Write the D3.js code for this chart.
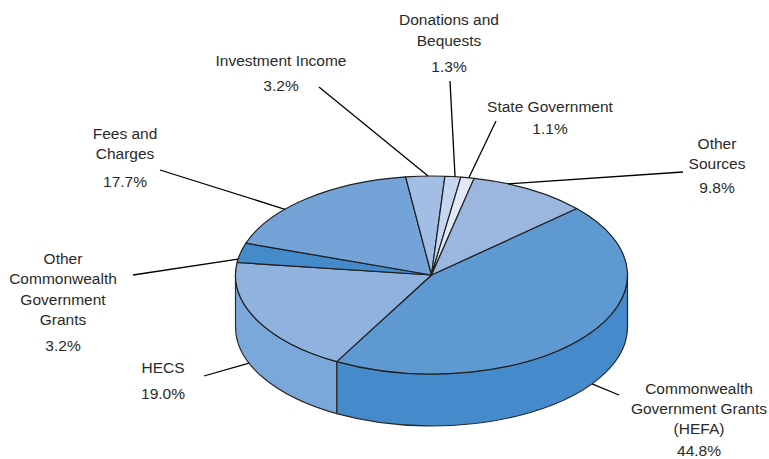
<!DOCTYPE html>
<html>
<head>
<meta charset="utf-8">
<script src="https://cdn.jsdelivr.net/npm/d3@7"></script>
<style>
  html, body { margin: 0; background: #fff; }
  svg { display: block; }
  text { font-family: "Liberation Sans", Arial, sans-serif; font-size: 15.5px; fill: #2a2a2a; }
</style>
</head>
<body>
<svg id="chart" width="769" height="459"></svg>
<script>
// data, clockwise from the right hand edge of the big slice
const categories = ["Commonwealth Government Grants (HEFA)", "HECS", "Other Commonwealth Government Grants",
                    "Fees and Charges", "Investment Income", "Donations and Bequests", "State Government", "Other Sources"]
const values = [44.8, 19.0, 3.2, 17.7, 3.2, 1.3, 1.1, 9.8]
const labelLines = [
  ["Commonwealth", "Government Grants", "(HEFA)"],
  ["HECS"],
  ["Other", "Commonwealth", "Government", "Grants"],
  ["Fees and", "Charges"],
  ["Investment Income"],
  ["Donations and", "Bequests"],
  ["State Government"],
  ["Other", "Sources"]
]

// styling
const topColors = ["#5f99d1", "#8fb2de", "#458bcb", "#74a4d7", "#a2bee5", "#c6d6f0", "#e1e8f6", "#9bb7e0"]
const wallColors = ["#458bcb", "#7ba8db", "#458bcb", "#74a4d7", "#a2bee5", "#c6d6f0", "#e1e8f6", "#9bb7e0"]

// label placement: x, first baseline, line gap, baseline of the percent
const labelPos = [
  [699, 394, 20, 456],
  [163, 373, 20, 399],
  [63, 264, 20.3, 351],
  [125, 139, 20, 187],
  [281, 66, 20, 91],
  [449, 25, 21, 72],
  [550, 112, 20, 134],
  [717, 149, 20, 193]
]
// leader lines: angle on the rim (deg), on the bottom edge or not, outer end
const leaders = [
  [125, true, 619, 395],
  [248.6, true, 204, 376],
  [279.2, false, 133, 275],
  [311.6, false, 160, 170],
  [359, false, 319, 87],
  [6.9, false, 450, 81],
  [11, false, 496, 121],
  [23, false, 683, 172]
]

const cx = 431.5, cy = 275, rx = 196, ry = 99, depth = 52
const startDeg = 47.8
const rad = d => d * Math.PI / 180

const svg = d3.select("#chart")

const pie = d3.pie()
              .sort(null)
              .startAngle(rad(startDeg))
              .endAngle(rad(startDeg) + 2 * Math.PI)
const slices = pie(values)

const arc = d3.arc()
              .innerRadius(0)
              .outerRadius(rx)

const px = a => cx + rx * Math.sin(a)
const py = a => cy - ry * Math.cos(a)

// wall of the disc, only the part facing us (90 to 270 degrees)
function wallPath(a0, a1)
{
  return "M" + px(a0) + "," + py(a0)
       + "A" + rx + "," + ry + " 0 0 1 " + px(a1) + "," + py(a1)
       + "L" + px(a1) + "," + (py(a1) + depth)
       + "A" + rx + "," + ry + " 0 0 0 " + px(a0) + "," + (py(a0) + depth)
       + "Z"
}

const walls = slices.map((d, i) => ({ i: i, a0: Math.max(d.startAngle, Math.PI / 2), a1: Math.min(d.endAngle, 3 * Math.PI / 2) }))
                    .filter(d => d.a1 > d.a0)

svg.selectAll(".wall")
   .data(walls)
   .enter().append("path")
   .attr("class", "wall")
   .attr("d", d => wallPath(d.a0, d.a1))
   .attr("fill", d => wallColors[d.i])
   .attr("stroke", "#2a2a2a")
   .attr("stroke-width", 1.2)
   .attr("stroke-linejoin", "round")

svg.append("g")
   .attr("transform", "translate(" + cx + "," + cy + ") scale(1," + (ry / rx) + ")")
   .selectAll("path")
   .data(slices)
   .enter().append("path")
   .attr("d", arc)
   .attr("fill", (d, i) => topColors[i])
   .attr("stroke", "#1e1e1e")
   .attr("stroke-width", 1.2)
   .attr("stroke-linejoin", "round")
   .attr("vector-effect", "non-scaling-stroke")

svg.selectAll(".leader")
   .data(leaders)
   .enter().append("line")
   .attr("class", "leader")
   .attr("x1", d => px(rad(d[0])))
   .attr("y1", d => py(rad(d[0])) + (d[1] ? depth : 0))
   .attr("x2", d => d[2])
   .attr("y2", d => d[3])
   .attr("stroke", "#000")
   .attr("stroke-width", 1.3)

categories.forEach((name, i) => {
  const pos = labelPos[i]
  const label = svg.append("text")
                   .attr("class", "label")
                   .attr("text-anchor", "middle")
  label.selectAll("tspan.name")
       .data(labelLines[i])
       .enter().append("tspan")
       .attr("class", "name")
       .attr("x", pos[0])
       .attr("y", (d, j) => pos[1] + j * pos[2])
       .text(d => d)
  label.append("tspan")
       .attr("x", pos[0])
       .attr("y", pos[3])
       .text(values[i].toFixed(1) + "%")
})
</script>
</body>
</html>
